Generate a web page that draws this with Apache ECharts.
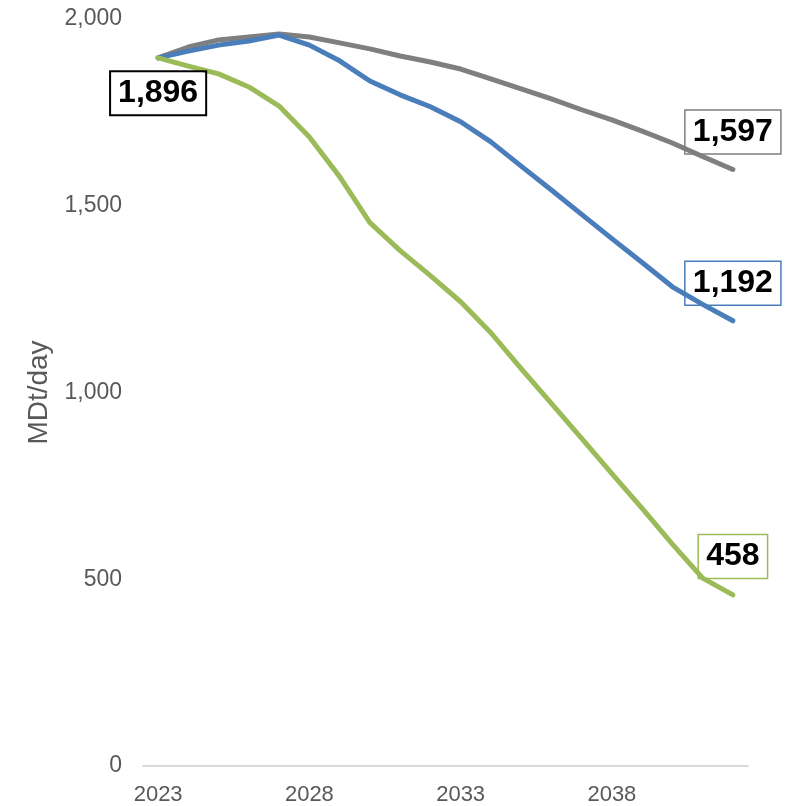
<!DOCTYPE html>
<html>
<head>
<meta charset="utf-8">
<script src="https://cdn.jsdelivr.net/npm/echarts@6/dist/echarts.min.js"></script>
<style>
  html, body { margin: 0; padding: 0; background: #ffffff; }
  #chart { width: 792px; height: 806px; }
</style>
</head>
<body>
<div id="chart"></div>
<script>
// Years on the horizontal axis
const years = ['2023','2024','2025','2026','2027','2028','2029','2030','2031','2032',
               '2033','2034','2035','2036','2037','2038','2039','2040','2041','2042'];

// Demand scenarios, MDt/day
const grayValues  = [1896,1925,1944,1952,1960,1952,1936,1920,1901,1885,
                     1866,1840,1813,1786,1757,1730,1700,1668,1632,1597];
const blueValues  = [1896,1914,1930,1941,1957,1930,1888,1834,1797,1765,
                     1725,1671,1606,1542,1477,1412,1348,1283,1236,1192];
const greenValues = [1896,1874,1853,1818,1767,1684,1578,1455,1380,1313,
                     1243,1160,1064,971,877,783,690,594,503,458];

const yTicks = [0, 500, 1000, 1500, 2000];

const FONT = "'Liberation Sans', Arial, sans-serif";
const GRAY = '#7f7f7f', BLUE = '#4a7ebb', GREEN = '#9bbb59';

const fmt = v => v.toLocaleString('en-US');

function lineSeries(name, data, color) {
  return {
    name, type: 'line', data,
    symbol: 'none', smooth: false,
    lineStyle: { color, width: 5, cap: 'round', join: 'round' },
    itemStyle: { color },
    z: 2
  };
}

// A boxed value callout anchored to one point of a series
function callout(year, value, border, borderWidth, position, distance) {
  return {
    type: 'scatter',
    data: [[year, value]],
    symbolSize: 1,
    itemStyle: { color: 'rgba(255,255,255,0)' },
    silent: true,
    z: 5,
    label: {
      show: true,
      position, distance,
      formatter: () => fmt(value),
      fontFamily: FONT, fontWeight: 'bold', fontSize: 32, lineHeight: 32,
      color: '#000', opacity: 1, textBorderWidth: 0,
      borderColor: border, borderWidth,
      padding: [6, 8, 6, 8]
    }
  };
}

const last = years.length - 1;

const option = {
  backgroundColor: '#ffffff',
  animation: false,
  grid: { left: 143, right: 44, top: 19, bottom: 39, containLabel: false },
  xAxis: {
    type: 'category',
    data: years,
    boundaryGap: true,
    axisLine: { show: true, lineStyle: { color: '#d9d9d9', width: 2 } },
    axisTick: { show: false },
    axisLabel: {
      interval: 4, margin: 18,
      color: '#595959', fontFamily: FONT, fontSize: 22
    },
    splitLine: { show: false }
  },
  yAxis: {
    type: 'value',
    min: yTicks[0], max: yTicks[yTicks.length - 1], interval: 500,
    name: 'MDt/day',
    nameLocation: 'middle',
    nameGap: 90,
    nameMoveOverlap: false,
    nameRotate: 90,
    nameTextStyle: { color: '#595959', fontFamily: FONT, fontSize: 28 },
    axisLine: { show: false },
    axisTick: { show: false },
    splitLine: { show: false },
    axisLabel: {
      margin: 21,
      color: '#595959', fontFamily: FONT, fontSize: 23,
      formatter: v => fmt(v)
    }
  },
  series: [
    lineSeries('Gray', grayValues, GRAY),
    lineSeries('Blue', blueValues, BLUE),
    lineSeries('Green', greenValues, GREEN),
    callout(years[0], greenValues[0], '#000000', 2, 'bottom', 13),
    callout(years[last], grayValues[last], GRAY, 1.5, 'top', 15),
    callout(years[last], blueValues[last], BLUE, 1.5, 'top', 15),
    callout(years[last], greenValues[last], GREEN, 1.5, 'top', 16)
  ]
};

const chart = echarts.init(document.getElementById('chart'), null, { renderer: 'canvas' });
chart.setOption(option);
</script>
</body>
</html>
